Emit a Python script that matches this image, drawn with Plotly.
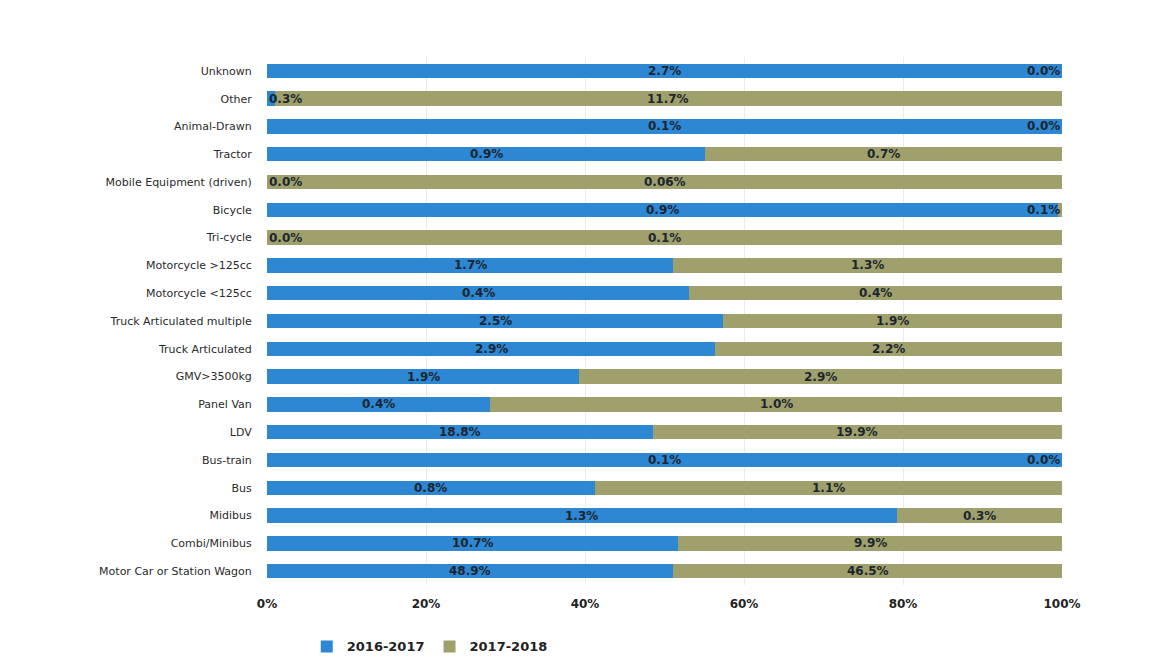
import plotly.graph_objects as go

categories = ["Unknown", "Other", "Animal-Drawn", "Tractor", "Mobile Equipment (driven)",
              "Bicycle", "Tri-cycle", "Motorcycle >125cc", "Motorcycle <125cc",
              "Truck Articulated multiple", "Truck Articulated", "GMV>3500kg", "Panel Van",
              "LDV", "Bus-train", "Bus", "Midibus", "Combi/Minibus", "Motor Car or Station Wagon"]

# bar share (percent of each row) for 2016-2017; 2017-2018 is the remainder
share_2016 = [100, 1, 100, 55.1, 0, 99.5, 0, 51.1, 53.1, 57.4, 56.4, 39.3, 28.1,
              48.5, 100, 41.2, 79.2, 51.7, 51.1]
share_2017 = [100 - v for v in share_2016]

labels_2016 = ["2.7%", "0.3%", "0.1%", "0.9%", "0.0%", "0.9%", "0.0%", "1.7%", "0.4%",
               "2.5%", "2.9%", "1.9%", "0.4%", "18.8%", "0.1%", "0.8%", "1.3%", "10.7%", "48.9%"]
labels_2017 = ["0.0%", "11.7%", "0.0%", "0.7%", "0.06%", "0.1%", "0.1%", "1.3%", "0.4%",
               "1.9%", "2.2%", "2.9%", "1.0%", "19.9%", "0.0%", "1.1%", "0.3%", "9.9%", "46.5%"]

series_names = ["2016-2017", "2017-2018"]
tick_values = [0, 20, 40, 60, 80, 100]
tick_labels = ["0%", "20%", "40%", "60%", "80%", "100%"]
colors = ["#2d87d2", "#9fa06b"]

fig = go.Figure()
fig.add_trace(go.Bar(y=categories, x=share_2016, orientation="h", name=series_names[0],
                     marker=dict(color=colors[0], line=dict(width=0))))
fig.add_trace(go.Bar(y=categories, x=share_2017, orientation="h", name=series_names[1],
                     marker=dict(color=colors[1], line=dict(width=0))))

lab_font = dict(family="DejaVu Sans", size=12, color="#1c2530", weight="bold")
annotations = []
for cat, a, b, la, lb in zip(categories, share_2016, share_2017, labels_2016, labels_2017):
    if a < 5:
        annotations.append(dict(x=0, y=cat, text=la, xanchor="left", showarrow=False, font=lab_font))
    else:
        annotations.append(dict(x=a / 2, y=cat, text=la, xanchor="center", showarrow=False, font=lab_font))
    if b < 5:
        annotations.append(dict(x=100, y=cat, text=lb, xanchor="right", showarrow=False, font=lab_font))
    else:
        annotations.append(dict(x=a + b / 2, y=cat, text=lb, xanchor="center", showarrow=False, font=lab_font))

fig.update_layout(
    barmode="stack",
    bargap=0.48,
    width=1173, height=665,
    margin=dict(l=259, r=119, t=49, b=86),
    paper_bgcolor="white", plot_bgcolor="white",
    font=dict(family="DejaVu Sans", size=11, color="#333333"),
    annotations=annotations,
    legend=dict(orientation="h", x=0.05, y=-0.088, xanchor="left", yanchor="top",
                font=dict(family="DejaVu Sans", size=13, color="#222222", weight="bold"),
                traceorder="normal"),
    xaxis=dict(range=[0, 100], tickmode="array", tickvals=tick_values, ticktext=tick_labels,
               showgrid=True, gridcolor="#ececec", zeroline=False, automargin=False,
               tickfont=dict(family="DejaVu Sans", size=12, color="#222222", weight="bold"),
               ticks="outside", ticklen=8, tickcolor="rgba(0,0,0,0)"),
    yaxis=dict(autorange="reversed", automargin=False,
               tickfont=dict(family="DejaVu Sans", size=11, color="#2a2a2a"),
               ticks="outside", ticklen=12, tickcolor="rgba(0,0,0,0)", showgrid=False),
)

fig.write_html("out.html")
